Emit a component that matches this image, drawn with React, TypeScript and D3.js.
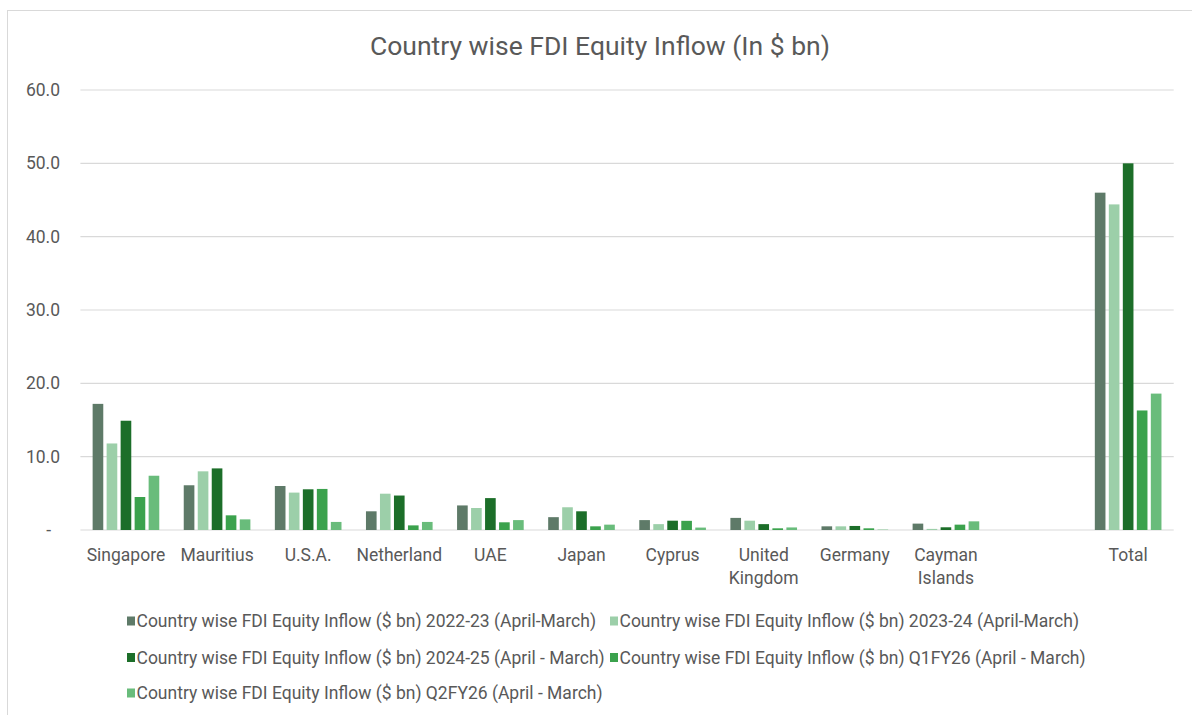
import React from "react";
import * as d3 from "d3";

const categories = [
  "Singapore",
  "Mauritius",
  "U.S.A.",
  "Netherland",
  "UAE",
  "Japan",
  "Cyprus",
  "United Kingdom",
  "Germany",
  "Cayman Islands",
  "",
  "Total",
];

const seriesNames = [
  "Country wise FDI Equity Inflow ($ bn) 2022-23 (April-March)",
  "Country wise FDI Equity Inflow ($ bn) 2023-24 (April-March)",
  "Country wise FDI Equity Inflow ($ bn) 2024-25 (April - March)",
  "Country wise FDI Equity Inflow ($ bn) Q1FY26 (April - March)",
  "Country wise FDI Equity Inflow ($ bn) Q2FY26 (April - March)",
];

const seriesColors = ["#5e7a68", "#9ccfa9", "#1c6e29", "#3ba24d", "#69bc7b"];

// values per category, same order as categories (blank slot has no bars)
const fy2223 = [17.2, 6.1, 6.0, 2.55, 3.35, 1.75, 1.35, 1.65, 0.5, 0.87, null, 46.0];
const fy2324 = [11.8, 8.0, 5.1, 4.95, 3.0, 3.1, 0.8, 1.27, 0.5, 0.15, null, 44.4];
const fy2425 = [14.9, 8.4, 5.55, 4.7, 4.35, 2.55, 1.27, 0.8, 0.55, 0.37, null, 50.0];
const q1fy26 = [4.5, 2.0, 5.6, 0.63, 1.05, 0.5, 1.25, 0.23, 0.23, 0.73, null, 16.3];
const q2fy26 = [7.4, 1.45, 1.1, 1.1, 1.35, 0.73, 0.33, 0.35, 0.05, 1.18, null, 18.6];

const seriesValues = [fy2223, fy2324, fy2425, q1fy26, q2fy26];

const yTicks = [0, 10, 20, 30, 40, 50, 60];

const title = "Country wise FDI Equity Inflow (In $ bn)";

const FONT = "Roboto, 'Open Sans', sans-serif";
const TEXT = "#595959";

export default function App() {
  const width = 1192;
  const height = 715;
  const plot = { left: 80.4, right: 1173.7, top: 90, bottom: 530 };

  const x = d3
    .scaleBand<string>()
    .domain(categories.map((c, i) => String(i)))
    .range([plot.left, plot.right])
    .paddingInner(0)
    .paddingOuter(0);

  const xInner = d3
    .scaleBand<string>()
    .domain(seriesNames)
    .range([-35, 35])
    .paddingInner(0.24)
    .paddingOuter(0.12);

  const y = d3.scaleLinear().domain([0, 60]).range([plot.bottom, plot.top]);

  const fmt = (v: number) => (v === 0 ? "-" : d3.format(".1f")(v));

  const legendCols = [127, 610];
  const legendRows = [621, 657.5, 693];

  return (
    <svg
      width={width}
      height={height}
      style={{ position: "absolute", left: 0, top: 0, background: "#fff" }}
      fontFamily={FONT}
    >
      <rect x={7.5} y={10.5} width={1200} height={720} fill="#fff" stroke="#d9d9d9" />

      <text x={600} y={55} textAnchor="middle" fontSize={26.5} fill={TEXT}>
        {title}
      </text>

      {yTicks.map((t) => (
        <g key={t}>
          <line
            x1={plot.left}
            x2={plot.right}
            y1={y(t)}
            y2={y(t)}
            stroke="#d9d9d9"
            strokeWidth={1.2}
          />
          <text
            x={t === 0 ? 51 : 60}
            y={y(t)}
            dy="0.35em"
            textAnchor="end"
            fontSize={17.5}
            fill={TEXT}
          >
            {fmt(t)}
          </text>
        </g>
      ))}

      {seriesValues.map((vals, si) => (
        <g key={si} fill={seriesColors[si]}>
          {vals.map((v, ci) => {
            if (v == null) return null;
            const cx = (x(String(ci)) as number) + x.bandwidth() / 2;
            return (
              <rect
                key={ci}
                x={cx + (xInner(seriesNames[si]) as number)}
                y={y(v)}
                width={xInner.bandwidth()}
                height={y(0) - y(v)}
              />
            );
          })}
        </g>
      ))}

      {categories.map((c, ci) => {
        const cx = (x(String(ci)) as number) + x.bandwidth() / 2;
        const lines = c.split(" ");
        return (
          <text key={ci} x={cx} y={561} textAnchor="middle" fontSize={17.5} fill={TEXT}>
            {lines.map((ln, li) => (
              <tspan key={li} x={cx} dy={li === 0 ? 0 : 23}>
                {ln}
              </tspan>
            ))}
          </text>
        );
      })}

      {seriesNames.map((name, i) => {
        const lx = legendCols[i % 2];
        const ly = legendRows[Math.floor(i / 2)];
        return (
          <g key={name}>
            <rect x={lx} y={ly - 4.5} width={8} height={9} fill={seriesColors[i]} />
            <text x={lx + 9.5} y={ly} dy="0.35em" fontSize={17.5} fill={TEXT}>
              {name}
            </text>
          </g>
        );
      })}
    </svg>
  );
}
